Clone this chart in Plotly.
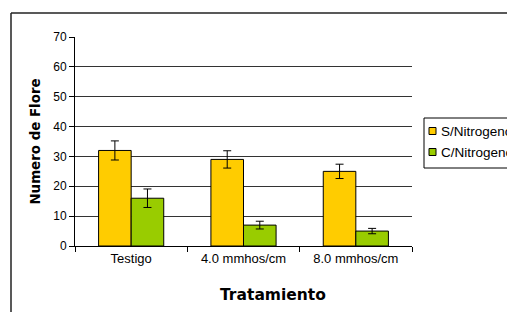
import plotly.graph_objects as go

categories = ["Testigo", "4.0 mmhos/cm", "8.0 mmhos/cm"]
series_names = ["S/Nitrogeno", "C/Nitrogeno"]
s_nitrogeno = [32, 29, 25]
s_nitrogeno_err = [3.2, 2.9, 2.4]
c_nitrogeno = [16, 7, 5]
c_nitrogeno_err = [3.1, 1.3, 0.9]
colors = ["#FFCC00", "#99CC00"]
y_ticks = [0, 10, 20, 30, 40, 50, 60, 70]

W, H = 507, 312
L, R, T, B = 75, 95, 37, 66
pw, ph = W - L - R, H - T - B


def px_x(x):
    return (x - L) / pw


def px_y(y):
    return (H - B - y) / ph


FONT = "Arial, 'Liberation Sans', sans-serif"
BOLD = "'DejaVu Sans', sans-serif"

fig = go.Figure()
for name, vals, errs, col in zip(series_names, [s_nitrogeno, c_nitrogeno],
                                  [s_nitrogeno_err, c_nitrogeno_err], colors):
    fig.add_trace(go.Bar(
        x=categories, y=vals, name=name, showlegend=False,
        marker=dict(color=col, line=dict(color="#000000", width=1)),
        error_y=dict(type="data", array=errs, visible=True,
                     color="#000000", thickness=1, width=4),
    ))

# legend (drawn as box + swatches + labels)
legend_left, legend_top, legend_bottom = 424, 118, 168
item_y = [131, 152]
shapes = [
    dict(type="rect", xref="paper", yref="paper",
         x0=px_x(legend_left), x1=px_x(540), y0=px_y(legend_bottom), y1=px_y(legend_top),
         line=dict(color="#000000", width=1), fillcolor="white"),
    dict(type="line", xref="paper", yref="paper",
         x0=px_x(11), x1=px_x(11), y0=px_y(13), y1=px_y(320),
         line=dict(color="#222222", width=1.5)),
    dict(type="line", xref="paper", yref="paper",
         x0=px_x(11), x1=px_x(520), y0=px_y(13), y1=px_y(13),
         line=dict(color="#222222", width=1.5)),
]
annotations = [dict(
    text="<b>Tratamiento</b>", xref="paper", yref="paper",
    x=px_x(273), y=px_y(295), xanchor="center", yanchor="middle",
    showarrow=False, font=dict(family=BOLD, size=15.5),
)]
for name, col, yy in zip(series_names, colors, item_y):
    shapes.append(dict(type="rect", xref="paper", yref="paper",
                       x0=px_x(429), x1=px_x(436), y0=px_y(yy + 3.5), y1=px_y(yy - 3.5),
                       line=dict(color="#000000", width=1), fillcolor=col))
    annotations.append(dict(text=name, xref="paper", yref="paper",
                            x=px_x(439), y=px_y(yy), xanchor="left", yanchor="middle",
                            showarrow=False, font=dict(family=FONT, size=13.5)))

fig.update_layout(
    width=W, height=H,
    margin=dict(l=L, r=R, t=T, b=B, autoexpand=False),
    paper_bgcolor="white", plot_bgcolor="white",
    barmode="group", bargap=0.42, bargroupgap=0,
    font=dict(family=FONT, size=12, color="#000000"),
    showlegend=False,
    xaxis=dict(
        type="category", showline=True, linecolor="#000000", linewidth=1,
        ticks="outside", tickson="boundaries", ticklen=5, tickcolor="#000000",
        tickfont=dict(family=FONT, size=13), showgrid=False,
    ),
    yaxis=dict(
        range=[0, 70], tickvals=y_ticks, showline=True, linecolor="#000000",
        linewidth=1, ticks="outside", ticklen=5, tickcolor="#000000",
        showgrid=True, gridcolor="#333333", gridwidth=1, zeroline=False,
        tickfont=dict(family=FONT, size=12),
        title=dict(text="<b>Numero de Flore</b>", standoff=9,
                   font=dict(family=BOLD, size=13.4)),
    ),
    annotations=annotations,
    shapes=shapes,
)

fig.write_html("out.html", config={"displayModeBar": False},
               post_script="document.body.style.margin='0';document.body.style.overflow='hidden';")
